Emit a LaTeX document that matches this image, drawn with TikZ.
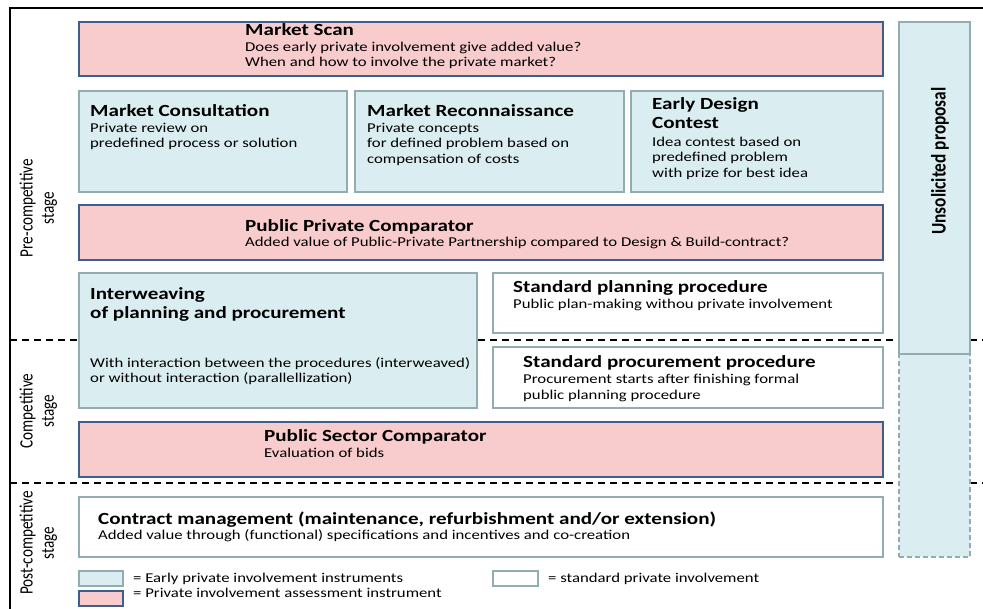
\documentclass[tikz,border=0pt]{standalone}
\usepackage{fontspec}
\setmainfont{Carlito}[FakeStretch=1.24]
\newfontfamily\rotfont{Carlito}
\definecolor{pinkf}{RGB}{248,203,204}
\definecolor{blueb}{RGB}{62,95,138}
\definecolor{lbf}{RGB}{218,237,241}
\definecolor{tealb}{RGB}{146,172,175}
\begin{document}
\begin{tikzpicture}[x=1pt,y=-1pt,
  boxbase/.style={rectangle,anchor=north west,inner sep=0pt,outer sep=0pt,line width=2.5pt},
  pinkbox/.style={boxbase,fill=pinkf,draw=blueb},
  bluebox/.style={boxbase,fill=lbf,draw=tealb},
  whitebox/.style={boxbase,fill=white,draw=tealb},
  ttl/.style={anchor=base west,inner sep=0pt,font=\bfseries\fontsize{17}{20}\selectfont},
  dsc/.style={anchor=base west,inner sep=0pt,font=\fontsize{13.5}{16}\selectfont},
  stg/.style={rotate=90,inner sep=0pt,font=\rotfont\fontsize{15.2}{17}\selectfont},
  stageline/.style={dashed,dash pattern=on 7pt off 5pt,line width=1.4pt}]
\useasboundingbox (0,0) rectangle (983,609);
% frame
\coordinate (fbl) at (10,609);
\coordinate (ftl) at (10,8);
\coordinate (ftr) at (983,8);
\draw[line width=2pt] (fbl) -- (ftl) -- (ftr);
% stage separators
\coordinate (s1a) at (10,340); \coordinate (s1b) at (983,340);
\coordinate (s2a) at (10,483); \coordinate (s2b) at (983,483);
\draw[stageline] (s1a) -- (s1b);
\draw[stageline] (s2a) -- (s2b);
% stage labels
\node[stg] (pre) at (39,208) {\scalebox{1}[1.24]{\begin{tabular}{@{}c@{}}Pre-competitive\\stage\end{tabular}}};
\node[stg] (comp) at (39,411) {\scalebox{1}[1.24]{\begin{tabular}{@{}c@{}}Competitive\\stage\end{tabular}}};
\node[stg] (post) at (39,543) {\scalebox{1}[1.24]{\begin{tabular}{@{}c@{}}Post-competitive\\stage\end{tabular}}};
% boxes
\node[pinkbox,minimum width=804pt,minimum height=54pt] (ms) at (79,22) {};
\node[bluebox,minimum width=268pt,minimum height=101pt] (mc) at (79,91) {};
\node[bluebox,minimum width=269pt,minimum height=101pt] (mr) at (355,91) {};
\node[bluebox,minimum width=252pt,minimum height=101pt] (ed) at (631,91) {};
\node[pinkbox,minimum width=804pt,minimum height=55pt] (ppc) at (79,205) {};
\node[bluebox,minimum width=398pt,minimum height=135pt] (iw) at (79,273) {};
\node[whitebox,minimum width=390pt,minimum height=60pt] (spp) at (493,273) {};
\node[whitebox,minimum width=390pt,minimum height=61pt] (sprp) at (493,347) {};
\node[pinkbox,minimum width=804pt,minimum height=55pt] (psc) at (79,422) {};
\node[whitebox,minimum width=804pt,minimum height=60pt] (cm) at (79,497) {};
\node[bluebox,dashed,dash pattern=on 5pt off 3pt,minimum width=71pt,minimum height=203pt] (up2) at (899,354) {};
\node[bluebox,minimum width=71pt,minimum height=332pt] (up) at (899,22) {};
\node[rotate=90,inner sep=0pt,font=\rotfont\bfseries\fontsize{17.3}{20}\selectfont] (upt) at (940,161) {\scalebox{1}[1.2]{Unsolicited proposal}};
% texts
\node[ttl] (t1) at (245,36) {Market Scan};
\node[dsc] (d1a) at (245,52) {Does early private involvement give added value?};
\node[dsc] (d1b) at (245,67) {When and how to involve the private market?};
\node[ttl] (t2) at (90,117) {Market Consultation};
\node[dsc] (d2a) at (90,133) {Private review on};
\node[dsc] (d2b) at (90,148) {predefined process or solution};
\node[ttl] (t3) at (367,117) {Market Reconnaissance};
\node[dsc] (d3a) at (367,133) {Private concepts};
\node[dsc] (d3b) at (367,148) {for defined problem based on};
\node[dsc] (d3c) at (367,164) {compensation of costs};
\node[ttl] (t4a) at (652,110) {Early Design};
\node[ttl] (t4b) at (652,129) {Contest};
\node[dsc] (d4a) at (652,147) {Idea contest based on};
\node[dsc] (d4b) at (652,162) {predefined problem};
\node[dsc] (d4c) at (652,178) {with prize for best idea};
\node[ttl] (t5) at (245,232) {Public Private Comparator};
\node[dsc] (d5) at (245,247) {Added value of Public-Private Partnership compared to Design \& Build-contract?};
\node[ttl] (t6a) at (90,300) {Interweaving};
\node[ttl] (t6b) at (90,319) {of planning and procurement};
\node[dsc] (d6a) at (90,368) {With interaction between the procedures (interweaved)};
\node[dsc] (d6b) at (90,383) {or without interaction (parallellization)};
\node[ttl] (t7) at (513,293) {Standard planning procedure};
\node[dsc] (d7) at (513,309) {Public plan-making withou private involvement};
\node[ttl] (t8) at (523,368) {Standard procurement procedure};
\node[dsc] (d8a) at (523,384) {Procurement starts after finishing formal};
\node[dsc] (d8b) at (523,400) {public planning procedure};
\node[ttl] (t9) at (264,442) {Public Sector Comparator};
\node[dsc] (d9) at (264,457) {Evaluation of bids};
\node[ttl] (t10) at (98,524) {Contract management (maintenance, refurbishment and/or extension)};
\node[dsc] (d10) at (98,539) {Added value through (functional) specifications and incentives and co-creation};
% legend
\node[bluebox,line width=2pt,minimum width=44pt,minimum height=15pt] (lg1) at (79,571) {};
\node[pinkbox,line width=2pt,minimum width=44pt,minimum height=15pt] (lg2) at (79,591) {};
\node[whitebox,line width=2pt,minimum width=45pt,minimum height=15pt] (lg3) at (493,571) {};
\node[dsc] (l1) at (133,582) {= Early private involvement instruments};
\node[dsc] (l2) at (133,597) {= Private involvement assessment instrument};
\node[dsc] (l3) at (548,582) {= standard private involvement};
\end{tikzpicture}
\end{document}
